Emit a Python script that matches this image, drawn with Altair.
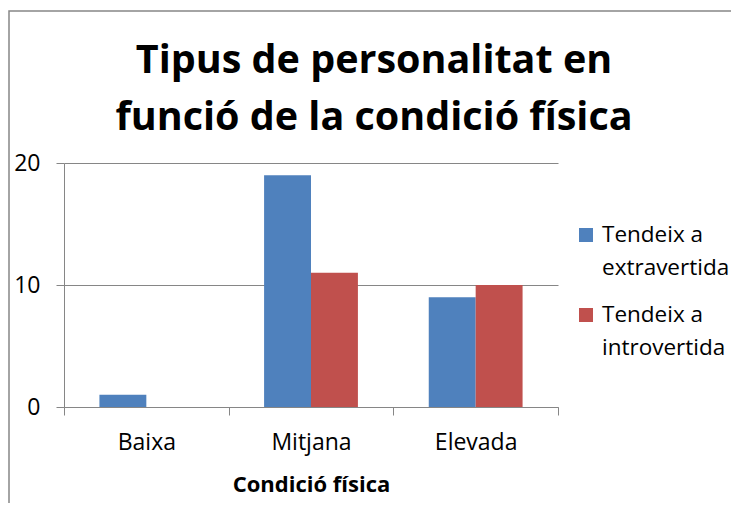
import altair as alt
import pandas as pd

categories = ["Baixa", "Mitjana", "Elevada"]
series = ["Tendeix a extravertida", "Tendeix a introvertida"]
extravertida = [1, 19, 9]
introvertida = [0, 11, 10]
colors = ["#4F81BD", "#C0504D"]
title_lines = ["Tipus de personalitat en", "funció de la condició física"]

rows = []
for c, e, i in zip(categories, extravertida, introvertida):
    rows.append({"cat": c, "serie": series[0], "val": e})
    rows.append({"cat": c, "serie": series[1], "val": i})
df = pd.DataFrame(rows)
leg_df = pd.DataFrame({"serie": series})

FONT = "Open Sans"
GRAY = "#868686"
W, H = 494, 244

one = pd.DataFrame({"a": [0]})

border = alt.Chart(one).mark_rect(
    fill=None, stroke=GRAY, strokeWidth=1.5
).encode(
    x=alt.value(-55), x2=alt.value(W + 300),
    y=alt.value(-152), y2=alt.value(H + 300),
)

title = alt.Chart(one).mark_text(
    align="center", baseline="alphabetic", font=FONT, fontSize=39.5,
    fontWeight="bold", lineHeight=57, color="black"
).encode(
    x=alt.value(W / 2 + 63), y=alt.value(-90), text=alt.value(title_lines)
)

bars = alt.Chart(df).mark_bar().encode(
    x=alt.X("cat:N", sort=categories,
            scale=alt.Scale(paddingInner=0, paddingOuter=0),
            axis=alt.Axis(title="Condició física", labelAngle=0, tickBand="extent",
                          labelFont=FONT, labelFontSize=23, labelColor="black",
                          labelPadding=16, tickSize=8, tickColor=GRAY,
                          domainColor=GRAY, titleFont=FONT, titleFontSize=22,
                          titleFontWeight="bold", titleColor="black",
                          titlePadding=20, grid=False)),
    xOffset=alt.XOffset("serie:N", sort=series,
                        scale=alt.Scale(paddingInner=0, paddingOuter=0.755)),
    y=alt.Y("val:Q", scale=alt.Scale(domain=[0, 20]),
            axis=alt.Axis(title=None, values=[0, 10, 20], labelFont=FONT,
                          labelFontSize=23, labelColor="black", labelPadding=16,
                          tickSize=8, tickColor=GRAY, domainColor=GRAY,
                          grid=True, gridColor=GRAY)),
    color=alt.Color("serie:N", scale=alt.Scale(domain=series, range=colors),
                    legend=None),
)

leg_sym = alt.Chart(leg_df).mark_square(size=196, opacity=1).encode(
    x=alt.value(522),
    y=alt.Y("serie:N", sort=series,
            scale=alt.Scale(type="point", range=[72, 152], padding=0), axis=None),
    color=alt.Color("serie:N", scale=alt.Scale(domain=series, range=colors),
                    legend=None),
)

leg_txt = alt.Chart(leg_df).transform_calculate(
    lines="['Tendeix a', slice(datum.serie, 10)]"
).mark_text(align="left", baseline="alphabetic", dy=7, font=FONT,
            fontSize=22.5, lineHeight=33, color="black").encode(
    x=alt.value(538),
    y=alt.Y("serie:N", sort=series,
            scale=alt.Scale(type="point", range=[72, 152], padding=0), axis=None),
    text="lines:N",
)

chart = alt.layer(border, title, bars, leg_sym, leg_txt).resolve_scale(
    y="independent"
).properties(
    width=W, height=H,
    autosize=alt.AutoSizeParams(type="none"),
    padding={"left": 56, "top": 155, "right": 173, "bottom": 96},
).configure_view(stroke=None)

chart.save("out.html", embed_options={"renderer": "svg", "actions": False})
